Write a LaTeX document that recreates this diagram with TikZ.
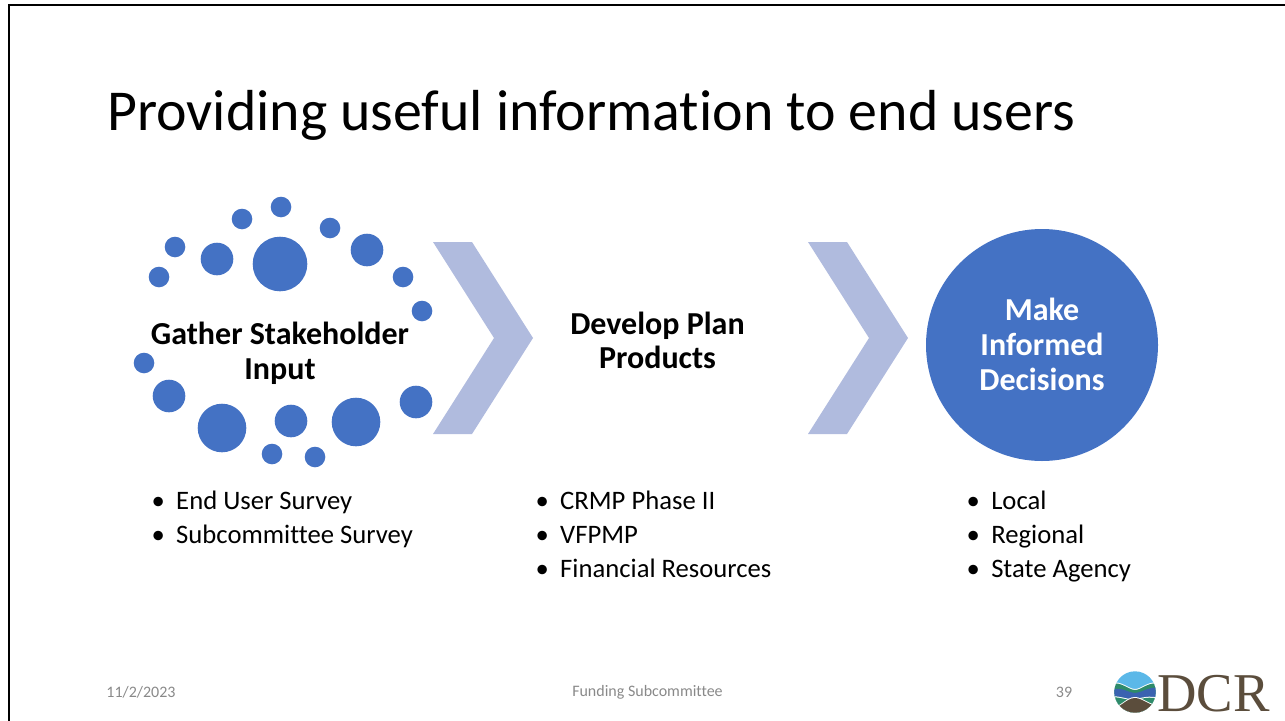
\documentclass[tikz,border=0pt]{standalone}
\usepackage{xcolor}
\usepackage{fontspec}
\setmainfont[Ligatures=NoCommon]{Carlito}
\newfontfamily\logofont{Liberation Serif}
\usepackage{tikz}
\usetikzlibrary{positioning}
\definecolor{dcrblue}{HTML}{4472C4}
\definecolor{dcrpale}{HTML}{B0BBDE}
\definecolor{footgray}{HTML}{898989}
\definecolor{logobrown}{HTML}{5B4D3C}
\definecolor{logosky}{HTML}{5BB8E8}
\definecolor{logogreen}{HTML}{2E8B6A}
\definecolor{logowater}{HTML}{3A62B0}
\newcommand{\listdot}{\makebox[16.5pt][l]{\hspace{-2pt}\textbullet}}
\tikzset{
  dot/.style={circle, fill=dcrblue, inner sep=0pt, minimum size=#1*0.75pt},
  chevron/.style={fill=dcrpale},
  heading/.style={font=\fontsize{24}{26}\selectfont\bfseries, align=center},
  listing/.style={font=\fontsize{20}{25.5}\selectfont, align=left, anchor=north west, inner sep=0pt},
  footer/.style={font=\fontsize{12}{14}\selectfont, text=footgray}
}
\begin{document}
\begin{tikzpicture}[x=0.75pt, y=-0.75pt]
\useasboundingbox (0,0) rectangle (1285,721);

% slide edge
\draw[line width=1.9pt] (9,721) -- (9,5) -- (1285,5);

\node[font=\fontsize{43.4}{48}\selectfont, anchor=west, inner sep=0pt] (title) at (107,115) {Providing useful information to end users};

% ring of dots: x / y / radius
\foreach \px/\py/\pr [count=\i] in {
  281/207/10.3, 242/219/10.3, 330/228/10.3, 175/247/10.3, 159/277/10.3, 403/277/10.3,
  422/311/10.3, 144/363/10.3, 272/454/10.3, 315/457/10.3,
  217/259/16.3, 367/250/16.3, 169/396/16.3, 291/421/16.3, 416/402/16.3,
  222/428/24.3, 356/422/24.3, 280/264/27.3}
  \node[dot=2*\pr] (dot\i) at (\px,\py) {};

% chevrons
\fill[chevron] (433,242) -- (472,242) -- (533,338) -- (472,434) -- (433,434) -- (494,338) -- cycle;
\fill[chevron] (808,242) -- (847,242) -- (908,338) -- (847,434) -- (808,434) -- (869,338) -- cycle;

\node[dot=232] (decide) at (1042,345) {};

\node[heading] (gather) at (280,353.5) {Gather Stakeholder\\Input};
\node[heading] (develop) at (657.5,340.5) {Develop Plan\\Products};
\node[heading, text=white] (make) at (1042,344.5) {Make\\Informed\\Decisions};

\node[listing] (gatherlist) at (154,491) {\listdot End User Survey\\\listdot Subcommittee Survey};
\node[listing] (developlist) at (538,491) {\listdot CRMP Phase II\\\listdot VFPMP\\\listdot Financial Resources};
\node[listing] (makelist) at (969,491) {\listdot Local\\\listdot Regional\\\listdot State Agency};

\node[footer] (date) at (141,692.5) {11/2/2023};
\node[footer] (fund) at (647.5,692.5) {Funding Subcommittee};
\node[footer] (page) at (1064,692.5) {39};

% logo
\begin{scope}
\clip (1135,692) circle (20.7);
\fill[logosky] (1110,665) rectangle (1160,720);
\fill[white] (1110,683) .. controls (1122,680) and (1128,689) .. (1135,689) .. controls (1142,689) and (1148,680) .. (1160,683) -- (1160,720) -- (1110,720) -- cycle;
\fill[logogreen] (1110,684) .. controls (1122,681) and (1128,690) .. (1135,690) .. controls (1142,690) and (1148,681) .. (1160,684) -- (1160,720) -- (1110,720) -- cycle;
\fill[logowater] (1110,690) .. controls (1122,686) and (1128,693) .. (1135,693) .. controls (1142,693) and (1148,686) .. (1160,688) -- (1160,698) .. controls (1148,695) and (1142,698) .. (1135,699) .. controls (1128,700) and (1122,696) .. (1110,696) -- cycle;
\fill[white] (1110,696) .. controls (1122,696) and (1128,700) .. (1135,699) .. controls (1142,698) and (1148,695) .. (1160,698) -- (1160,720) -- (1110,720) -- cycle;
\fill[logogreen] (1110,697) .. controls (1122,697) and (1128,701) .. (1135,700) .. controls (1142,699) and (1148,696) .. (1160,699) -- (1160,720) -- (1110,720) -- cycle;
\fill[white] (1110,708) .. controls (1120,708) and (1126,697) .. (1135,697) .. controls (1142,697) and (1150,705) .. (1160,706) -- (1160,720) -- (1110,720) -- cycle;
\fill[logobrown] (1110,709) .. controls (1120,709) and (1126,698) .. (1135,698) .. controls (1142,698) and (1150,706) .. (1160,707) -- (1160,720) -- (1110,720) -- cycle;
\end{scope}
\node[font=\logofont\fontsize{41}{41}\selectfont, text=logobrown, anchor=base west, inner sep=0pt] (dcr) at (1157,711) {DCR};
\end{tikzpicture}
\end{document}
